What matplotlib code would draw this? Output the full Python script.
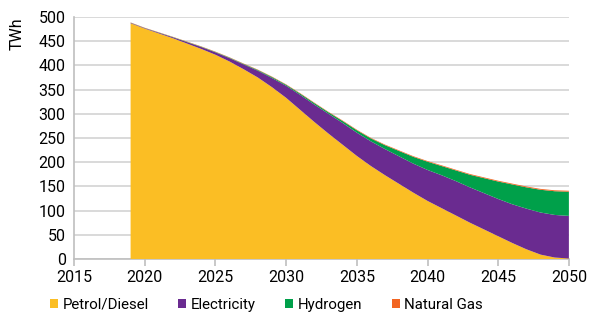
import numpy as np
import matplotlib
matplotlib.use("Agg")
from matplotlib import pyplot as plt

plt.rcParams['font.family'] = ['Roboto', 'DejaVu Sans']

years = list(range(2019, 2051))

# TWh by fuel, stacked in this order
petrol = [487, 476, 466, 456, 445, 434, 422, 408, 392, 375, 355, 333, 308, 283, 259, 236,
          213, 192, 173, 155, 137, 120, 105, 90, 75, 61, 47, 33, 20, 9, 3, 1]
electricity = [1, 1, 1.5, 2, 3, 4, 5, 7, 10, 14, 19, 25, 31, 36, 41, 45,
               48, 51, 54, 57, 60, 64, 68, 71, 73, 75, 77, 80, 84, 87, 88, 88]
hydrogen = [0.3, 0.3, 0.4, 0.5, 0.6, 0.7, 0.8, 1, 1, 1.5, 2, 2, 2.5, 3, 3, 4,
            5, 6, 8, 11, 14, 17, 19, 22, 26, 31, 36, 41, 44, 47, 49, 50]
natural_gas = [0.5, 0.5, 0.5, 0.5, 0.6, 0.6, 0.7, 0.7, 0.8, 0.8, 0.9, 0.9, 1, 1, 1, 1.1,
               1.2, 1.2, 1.3, 1.3, 1.4, 1.4, 1.5, 1.5, 1.6, 1.6, 1.7, 1.7, 1.8, 1.8, 1.9, 2]

labels = ["Petrol/Diesel", "Electricity", "Hydrogen", "Natural Gas"]
colors = ["#FBBE24", "#6A2B90", "#00A04A", "#F26522"]

fig = plt.figure(figsize=(6.02, 3.27), dpi=100)
ax = fig.add_axes([0.123, 0.208, 0.822, 0.740])

ax.stackplot(years, petrol, electricity, hydrogen, natural_gas,
             colors=colors, labels=labels, linewidth=0, zorder=3)

ax.set_xlim(2015, 2050)
ax.set_ylim(0, 500)
ax.set_xticks(range(2015, 2051, 5))
ax.set_yticks(range(0, 501, 50))
ax.yaxis.grid(True, color="#D9D9D9", linewidth=1.4, zorder=0)
ax.set_axisbelow(True)

for side in ["top", "right"]:
    ax.spines[side].set_visible(False)
for side in ["left", "bottom"]:
    ax.spines[side].set_color("#BFBFBF")
    ax.spines[side].set_linewidth(1.2)

ax.tick_params(axis="y", length=0, pad=6, labelsize=11.5, colors="#000000")
ax.tick_params(axis="x", length=5, width=1.2, color="#BFBFBF", pad=3, labelsize=11.5)
ax.set_ylabel("TWh", fontsize=11.5, loc="top")
ax.yaxis.set_label_coords(-0.1, 1.0)

ax.legend(loc="upper center", bbox_to_anchor=(0.389, -0.135), ncol=4, frameon=False,
          fontsize=10.8, handlelength=0.55, handleheight=0.6, handletextpad=0.3,
          columnspacing=1.95, borderaxespad=0)

fig.savefig("out.png", dpi=100)
